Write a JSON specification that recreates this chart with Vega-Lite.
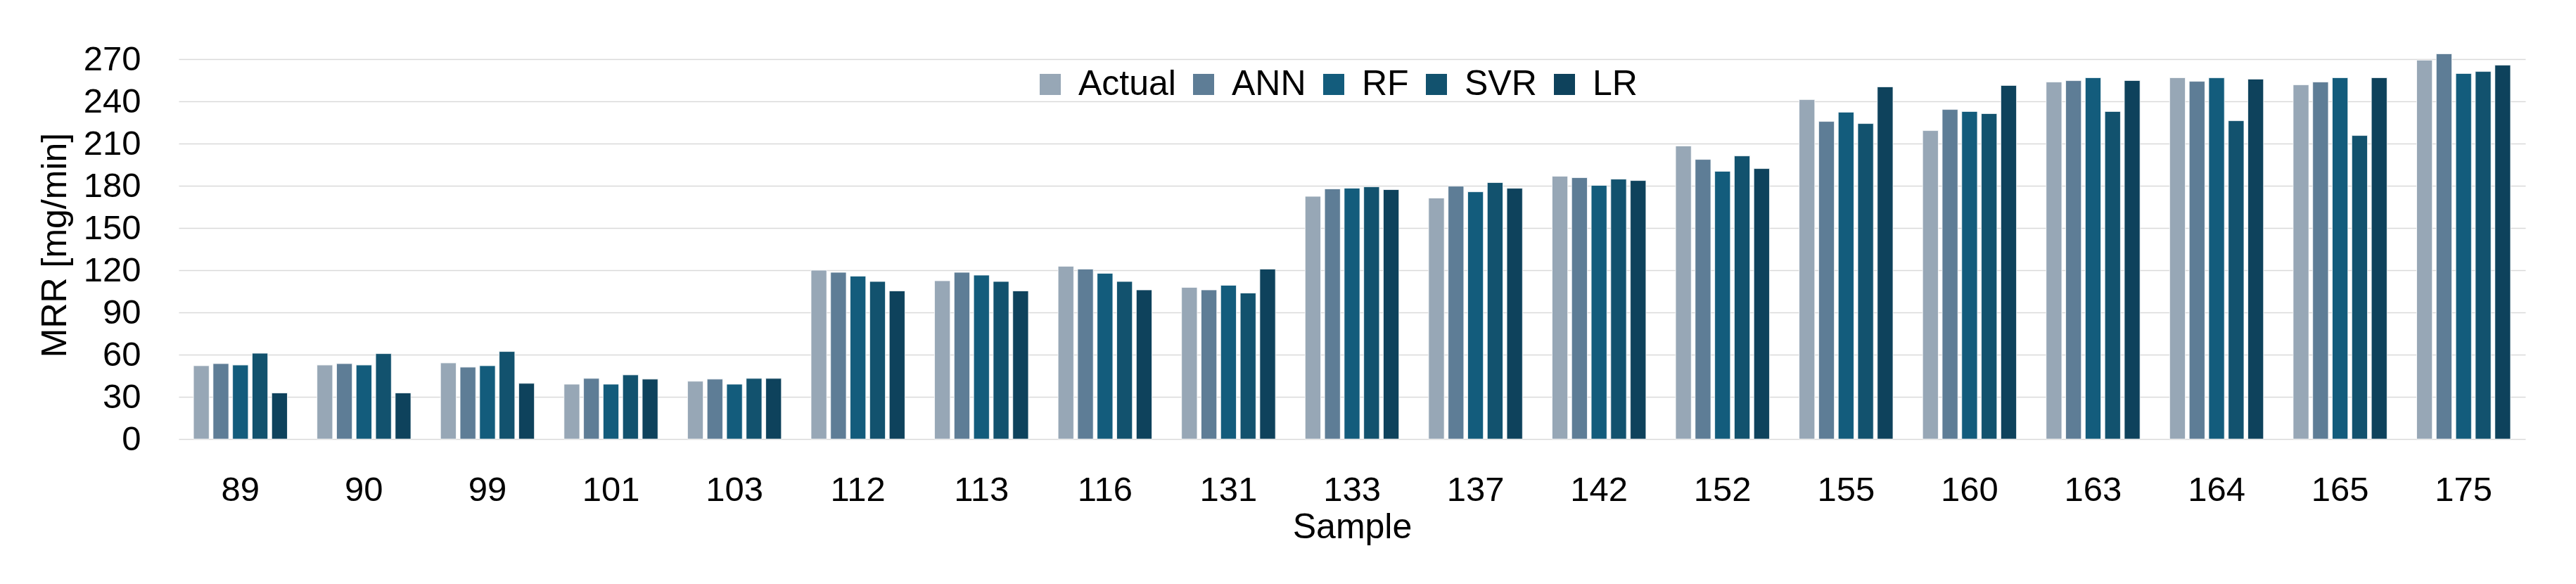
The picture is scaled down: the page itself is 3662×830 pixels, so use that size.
{
  "$schema": "https://vega.github.io/schema/vega-lite/v6.json",
  "autosize": "none",
  "width": 3336,
  "height": 560,
  "padding": {"left": 254, "top": 64, "right": 72, "bottom": 206},
  "background": "white",
  "config": {
    "view": {"stroke": null},
    "font": "Liberation Sans",
    "axis": {"labelFont": "Liberation Sans", "titleFont": "Liberation Sans", "labelColor": "#000000", "titleColor": "#000000", "titleFontWeight": "normal"},
    "legend": {"labelFont": "Liberation Sans", "labelColor": "#000000"}
  },
  "data": {
    "values": [
      {"Sample": "89", "Model": "Actual", "MRR": 52.1}, {"Sample": "89", "Model": "ANN", "MRR": 53.6}, {"Sample": "89", "Model": "RF", "MRR": 52.6}, {"Sample": "89", "Model": "SVR", "MRR": 61.0}, {"Sample": "89", "Model": "LR", "MRR": 32.8},
      {"Sample": "90", "Model": "Actual", "MRR": 52.6}, {"Sample": "90", "Model": "ANN", "MRR": 53.6}, {"Sample": "90", "Model": "RF", "MRR": 52.6}, {"Sample": "90", "Model": "SVR", "MRR": 60.7}, {"Sample": "90", "Model": "LR", "MRR": 32.8},
      {"Sample": "99", "Model": "Actual", "MRR": 54.1}, {"Sample": "99", "Model": "ANN", "MRR": 51.1}, {"Sample": "99", "Model": "RF", "MRR": 52.1}, {"Sample": "99", "Model": "SVR", "MRR": 62.2}, {"Sample": "99", "Model": "LR", "MRR": 39.6},
      {"Sample": "101", "Model": "Actual", "MRR": 39.0}, {"Sample": "101", "Model": "ANN", "MRR": 43.1}, {"Sample": "101", "Model": "RF", "MRR": 39.0}, {"Sample": "101", "Model": "SVR", "MRR": 45.6}, {"Sample": "101", "Model": "LR", "MRR": 42.6},
      {"Sample": "103", "Model": "Actual", "MRR": 41.1}, {"Sample": "103", "Model": "ANN", "MRR": 42.6}, {"Sample": "103", "Model": "RF", "MRR": 39.0}, {"Sample": "103", "Model": "SVR", "MRR": 43.1}, {"Sample": "103", "Model": "LR", "MRR": 43.1},
      {"Sample": "112", "Model": "Actual", "MRR": 120.0}, {"Sample": "112", "Model": "ANN", "MRR": 118.5}, {"Sample": "112", "Model": "RF", "MRR": 115.8}, {"Sample": "112", "Model": "SVR", "MRR": 112.0}, {"Sample": "112", "Model": "LR", "MRR": 105.3},
      {"Sample": "113", "Model": "Actual", "MRR": 112.5}, {"Sample": "113", "Model": "ANN", "MRR": 118.5}, {"Sample": "113", "Model": "RF", "MRR": 116.5}, {"Sample": "113", "Model": "SVR", "MRR": 112.0}, {"Sample": "113", "Model": "LR", "MRR": 105.3},
      {"Sample": "116", "Model": "Actual", "MRR": 122.8}, {"Sample": "116", "Model": "ANN", "MRR": 120.8}, {"Sample": "116", "Model": "RF", "MRR": 117.8}, {"Sample": "116", "Model": "SVR", "MRR": 112.0}, {"Sample": "116", "Model": "LR", "MRR": 106.0},
      {"Sample": "131", "Model": "Actual", "MRR": 107.8}, {"Sample": "131", "Model": "ANN", "MRR": 106.0}, {"Sample": "131", "Model": "RF", "MRR": 109.3}, {"Sample": "131", "Model": "SVR", "MRR": 103.8}, {"Sample": "131", "Model": "LR", "MRR": 120.8},
      {"Sample": "133", "Model": "Actual", "MRR": 172.5}, {"Sample": "133", "Model": "ANN", "MRR": 177.8}, {"Sample": "133", "Model": "RF", "MRR": 178.3}, {"Sample": "133", "Model": "SVR", "MRR": 179.3}, {"Sample": "133", "Model": "LR", "MRR": 177.3},
      {"Sample": "137", "Model": "Actual", "MRR": 171.3}, {"Sample": "137", "Model": "ANN", "MRR": 179.7}, {"Sample": "137", "Model": "RF", "MRR": 175.7}, {"Sample": "137", "Model": "SVR", "MRR": 182.3}, {"Sample": "137", "Model": "LR", "MRR": 178.2},
      {"Sample": "142", "Model": "Actual", "MRR": 186.8}, {"Sample": "142", "Model": "ANN", "MRR": 185.8}, {"Sample": "142", "Model": "RF", "MRR": 180.3}, {"Sample": "142", "Model": "SVR", "MRR": 184.7}, {"Sample": "142", "Model": "LR", "MRR": 183.7},
      {"Sample": "152", "Model": "Actual", "MRR": 208.3}, {"Sample": "152", "Model": "ANN", "MRR": 198.7}, {"Sample": "152", "Model": "RF", "MRR": 190.3}, {"Sample": "152", "Model": "SVR", "MRR": 201.2}, {"Sample": "152", "Model": "LR", "MRR": 192.2},
      {"Sample": "155", "Model": "Actual", "MRR": 241.2}, {"Sample": "155", "Model": "ANN", "MRR": 225.7}, {"Sample": "155", "Model": "RF", "MRR": 232.3}, {"Sample": "155", "Model": "SVR", "MRR": 224.2}, {"Sample": "155", "Model": "LR", "MRR": 250.3},
      {"Sample": "160", "Model": "Actual", "MRR": 219.2}, {"Sample": "160", "Model": "ANN", "MRR": 234.2}, {"Sample": "160", "Model": "RF", "MRR": 232.8}, {"Sample": "160", "Model": "SVR", "MRR": 231.3}, {"Sample": "160", "Model": "LR", "MRR": 251.3},
      {"Sample": "163", "Model": "Actual", "MRR": 253.7}, {"Sample": "163", "Model": "ANN", "MRR": 254.7}, {"Sample": "163", "Model": "RF", "MRR": 256.8}, {"Sample": "163", "Model": "SVR", "MRR": 232.8}, {"Sample": "163", "Model": "LR", "MRR": 254.8},
      {"Sample": "164", "Model": "Actual", "MRR": 256.8}, {"Sample": "164", "Model": "ANN", "MRR": 254.2}, {"Sample": "164", "Model": "RF", "MRR": 256.7}, {"Sample": "164", "Model": "SVR", "MRR": 226.2}, {"Sample": "164", "Model": "LR", "MRR": 255.8},
      {"Sample": "165", "Model": "Actual", "MRR": 251.7}, {"Sample": "165", "Model": "ANN", "MRR": 253.7}, {"Sample": "165", "Model": "RF", "MRR": 256.8}, {"Sample": "165", "Model": "SVR", "MRR": 215.7}, {"Sample": "165", "Model": "LR", "MRR": 256.8},
      {"Sample": "175", "Model": "Actual", "MRR": 269.3}, {"Sample": "175", "Model": "ANN", "MRR": 273.8}, {"Sample": "175", "Model": "RF", "MRR": 259.8}, {"Sample": "175", "Model": "SVR", "MRR": 261.2}, {"Sample": "175", "Model": "LR", "MRR": 265.7}
    ]
  },
  "mark": {"type": "bar", "stroke": "#ffffff", "strokeWidth": 0.8},
  "encoding": {
    "x": {
      "field": "Sample",
      "type": "ordinal",
      "sort": ["89", "90", "99", "101", "103", "112", "113", "116", "131", "133", "137", "142", "152", "155", "160", "163", "164", "165", "175"],
      "scale": {"paddingInner": 0.24, "paddingOuter": 0.12},
      "axis": {
        "title": "Sample",
        "titleFontSize": 50,
        "titleY": 140,
        "titleBaseline": "alphabetic",
        "labelFontSize": 49,
        "labelAngle": 0,
        "labelPadding": 48,
        "ticks": false,
        "domain": false,
        "grid": false
      }
    },
    "xOffset": {
      "field": "Model",
      "type": "nominal",
      "sort": ["Actual", "ANN", "RF", "SVR", "LR"],
      "scale": {"paddingInner": 0.2, "paddingOuter": 0}
    },
    "y": {
      "field": "MRR",
      "type": "quantitative",
      "scale": {"domain": [0, 280], "nice": false},
      "axis": {
        "title": "MRR [mg/min]",
        "titleFontSize": 50,
        "titleX": -176,
        "titleY": 284,
        "titleBaseline": "middle",
        "titleAngle": -90,
        "values": [0, 30, 60, 90, 120, 150, 180, 210, 240, 270],
        "labelFontSize": 49,
        "labelPadding": 54,
        "ticks": false,
        "domain": false,
        "grid": true,
        "gridColor": "#D9D9D9",
        "gridWidth": 1.7
      }
    },
    "color": {
      "field": "Model",
      "type": "nominal",
      "sort": ["Actual", "ANN", "RF", "SVR", "LR"],
      "scale": {
        "domain": ["Actual", "ANN", "RF", "SVR", "LR"],
        "range": ["#97A7B6", "#5E7D96", "#135C7C", "#12526E", "#0E425C"]
      },
      "legend": {
        "title": null,
        "orient": "none",
        "direction": "horizontal",
        "legendX": 1214,
        "legendY": 31,
        "symbolType": "square",
        "symbolSize": 900,
        "symbolStrokeWidth": 0,
        "labelFontSize": 50,
        "labelOffset": 15,
        "columnPadding": 14,
        "padding": 0
      }
    }
  }
}
